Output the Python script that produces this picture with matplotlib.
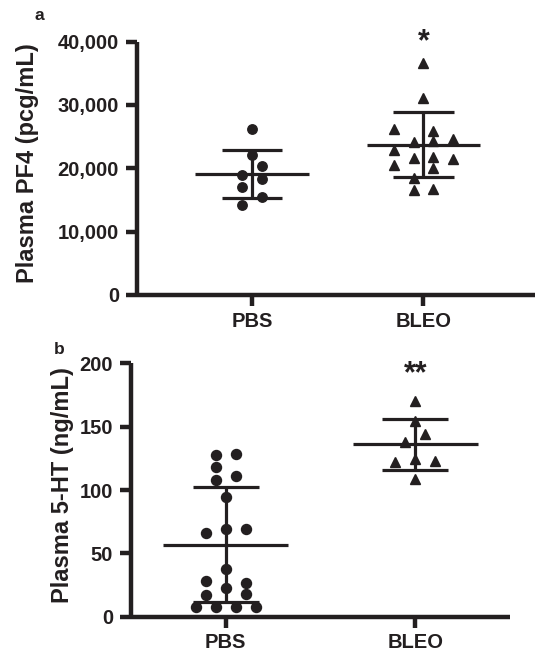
import numpy as np
import matplotlib
matplotlib.use("Agg")
import matplotlib.pyplot as plt

plt.rcParams['font.family'] = ['Liberation Sans', 'DejaVu Sans']
plt.rcParams['font.weight'] = 'bold'

INK = '#231f20'

groups = ["PBS", "BLEO"]

# panel a: plasma PF4 (pcg/mL)
pf4_pbs = [26165, 22106, 20369, 18995, 18316, 17100, 15427, 14164]
pf4_pbs_slot = [0, 0, 1, -1, 1, -1, 1, -1]
pf4_bleo = [36680, 31060, 26165, 25943, 24111, 24364, 24585, 22896,
            21585, 21743, 21474, 20574, 20100, 18522, 16580, 16690]
pf4_bleo_slot = [0, 0, -3, 1, -1, 1, 3, -3, -1, 1, 3, -3, 1, -1, -1, 1]
pf4_mean = [19050, 23700]
pf4_sd = [3800, 5150]
pf4_ticks = [0, 10000, 20000, 30000, 40000]
pf4_ticklabels = ["0", "10,000", "20,000", "30,000", "40,000"]
pf4_stars = ["", "*"]

# panel b: plasma 5-HT (ng/mL)
ht_pbs = [127.7, 128.2, 118.4, 107.9, 111.1, 94.7, 66.3, 69.2, 69.2, 37.7,
          28.4, 26.4, 22.4, 17.1, 17.9, 7.4, 7.4, 7.4, 7.4]
ht_pbs_slot = [-1, 1, -1, -1, 1, 0, -2, 0, 2, 0, -2, 2, 0, -2, 2, -3, -1, 1, 3]
ht_bleo = [170.5, 154.7, 144.2, 137.9, 122.4, 124.5, 123.2, 108.7]
ht_bleo_slot = [0, 0, 1, -1, -2, 0, 2, 0]
ht_mean = [56.8, 136.1]
ht_sd = [45.4, 20.0]
ht_ticks = [0, 50, 100, 150, 200]
ht_ticklabels = ["0", "50", "100", "150", "200"]
ht_stars = ["", "**"]


def panel(ax, vals, slots, mean, sd, ticks, ticklabels, ylabel, stars,
          slot_w, star_y, xlim, label_x, ms):
    markers = ['o', '^']
    for i, (v, s) in enumerate(zip(vals, slots)):
        x = (i + 1) + np.array(s) * slot_w
        ax.plot(x, v, linestyle='none', marker=markers[i], ms=ms[i],
                color=INK, mec=INK, zorder=3, clip_on=False)
        c = i + 1
        ax.hlines(mean[i], c - 0.33, c + 0.33, color=INK, lw=2.3, zorder=2)
        ax.hlines([mean[i] - sd[i], mean[i] + sd[i]], c - 0.175, c + 0.175,
                  color=INK, lw=2.3, zorder=2)
        ax.vlines(c, mean[i] - sd[i], mean[i] + sd[i], color=INK, lw=2.3, zorder=2)
        if stars[i]:
            ax.text(c, star_y, stars[i], ha='center', va='center', fontsize=22,
                    fontweight='bold', color=INK, clip_on=False)
    ax.set_xlim(*xlim)
    ax.set_ylim(ticks[0], ticks[-1])
    ax.set_yticks(ticks)
    ax.set_yticklabels(ticklabels)
    ax.set_xticks([1, 2])
    ax.set_xticklabels(groups)
    for side in ['top', 'right']:
        ax.spines[side].set_visible(False)
    for side in ['left', 'bottom']:
        ax.spines[side].set_linewidth(3.2)
        ax.spines[side].set_color(INK)
        ax.spines[side].set_capstyle('butt')
    ax.tick_params(axis='both', direction='out', length=8, width=3.2,
                   color=INK, labelsize=14.5, labelcolor=INK)
    ax.tick_params(axis='y', pad=5)
    ax.tick_params(axis='x', pad=4)
    ax.set_ylabel(ylabel, fontsize=17, fontweight='bold', color=INK, va='center')
    ax.yaxis.set_label_coords(label_x, 0.52)


fig = plt.figure(figsize=(5.35, 6.51), dpi=100)

ax_a = fig.add_axes([0.2561, 0.5469, 0.7439, 0.3891])
panel(ax_a, [pf4_pbs, pf4_bleo], [pf4_pbs_slot, pf4_bleo_slot], pf4_mean, pf4_sd,
      pf4_ticks, pf4_ticklabels, "Plasma PF4 (pcg/mL)", pf4_stars,
      0.058, 39900, (0.33, 2.65), -0.275, [6.8, 7.0])

ax_b = fig.add_axes([0.2449, 0.0527, 0.7084, 0.3891])
panel(ax_b, [ht_pbs, ht_bleo], [ht_pbs_slot, ht_bleo_slot], ht_mean, ht_sd,
      ht_ticks, ht_ticklabels, "Plasma 5-HT (ng/mL)", ht_stars,
      0.053, 191.5, (0.5, 2.5), -0.18, [7.2, 7.0])

fig.text(39 / 535, 1 - 15 / 651, "a", ha='center', va='center', fontsize=12.5,
         fontweight='bold', color=INK)
fig.text(59 / 535, 1 - 349 / 651, "b", ha='center', va='center', fontsize=12.5,
         fontweight='bold', color=INK)

fig.savefig("out.png", dpi=100)
